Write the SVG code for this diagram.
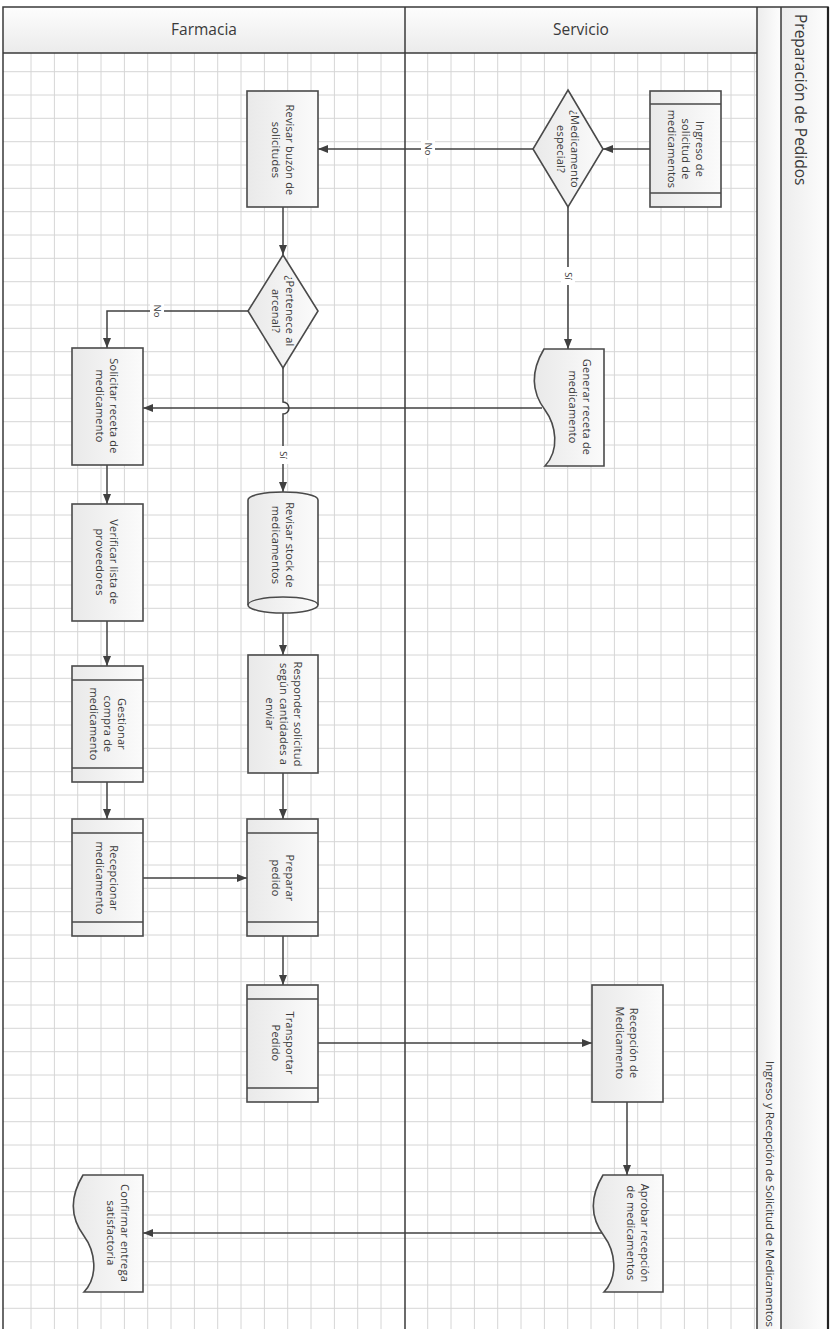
<svg xmlns="http://www.w3.org/2000/svg" width="834" height="1329" viewBox="0 0 834 1329">
<style>
.frame{fill:none;stroke:#3a3a3a;stroke-width:1.5}
.grid{fill:none;stroke:#d6d6d6;stroke-width:1}
.shape{fill:url(#nodeFill);stroke:#4a4a4a;stroke-width:1.6}
.band{fill:none;stroke:#4a4a4a;stroke-width:1.4}
.conn{fill:none;stroke:#404040;stroke-width:1.5}
.arr{marker-end:url(#ah)}
.ntext{font-family:"Open Sans","Noto Sans",sans-serif;font-size:11px;letter-spacing:0.2px;fill:#3a3a3a;text-anchor:middle}
.lbl{font-family:"Open Sans","Noto Sans",sans-serif;font-size:9.5px;fill:#3a3a3a;text-anchor:middle}
.lane{font-family:"Open Sans","Noto Sans",sans-serif;font-size:15.5px;fill:#3a3a3a;text-anchor:middle}
.title{font-family:"Open Sans","Noto Sans",sans-serif;font-size:15.5px;fill:#3a3a3a}
.sub{font-family:"Open Sans","Noto Sans",sans-serif;font-size:10.5px;fill:#3a3a3a}
</style>
<defs>
<linearGradient id="nodeFill" x1="0" y1="0" x2="1" y2="0">
<stop offset="0" stop-color="#e9e9e9"/>
<stop offset="1" stop-color="#fbfbfb"/>
</linearGradient>
<linearGradient id="hdrFill" x1="0" y1="0" x2="0" y2="1">
<stop offset="0" stop-color="#fdfdfd"/>
<stop offset="1" stop-color="#ebebeb"/>
</linearGradient>
<linearGradient id="colFill" x1="0" y1="0" x2="1" y2="0">
<stop offset="0" stop-color="#ececec"/>
<stop offset="1" stop-color="#fdfdfd"/>
</linearGradient>
<marker id="ah" markerWidth="10" markerHeight="8" refX="10" refY="4" orient="auto" markerUnits="userSpaceOnUse">
<path d="M0,0 L10,4 L0,8 Z" fill="#404040"/>
</marker>
</defs>

<g id="background">
<rect x="0" y="0" width="834" height="1329" fill="#ffffff"/>
<path class="grid" d="M31,53V1329M54.4,53V1329M77.7,53V1329M101,53V1329M124.4,53V1329M147.7,53V1329M171,53V1329M194.4,53V1329M217.7,53V1329M241,53V1329M264.4,53V1329M287.7,53V1329M311,53V1329M334.4,53V1329M357.7,53V1329M381,53V1329M427.7,53V1329M451,53V1329M474.4,53V1329M497.7,53V1329M521,53V1329M544.4,53V1329M567.7,53V1329M591,53V1329M614.4,53V1329M637.7,53V1329M661,53V1329M684.4,53V1329M707.7,53V1329M731,53V1329M754.4,53V1329
M3,71.7H757M3,95H757M3,118.3H757M3,141.7H757M3,165H757M3,188.3H757M3,211.7H757M3,235H757M3,258.3H757M3,281.7H757M3,305H757M3,328.3H757M3,351.7H757M3,375H757M3,398.3H757M3,421.7H757M3,445H757M3,468.3H757M3,491.7H757M3,515H757M3,538.3H757M3,561.7H757M3,585H757M3,608.3H757M3,631.7H757M3,655H757M3,678.3H757M3,701.7H757M3,725H757M3,748.3H757M3,771.7H757M3,795H757M3,818.3H757M3,841.7H757M3,865H757M3,888.3H757M3,911.7H757M3,935H757M3,958.3H757M3,981.7H757M3,1005H757M3,1028.3H757M3,1051.7H757M3,1075H757M3,1098.3H757M3,1121.7H757M3,1145H757M3,1168.3H757M3,1191.7H757M3,1215H757M3,1238.3H757M3,1261.7H757M3,1285H757M3,1308.3H757"/>
<rect x="3" y="7" width="754" height="46" fill="url(#hdrFill)"/>
<rect x="757" y="7" width="24" height="1322" fill="url(#colFill)"/>
<rect x="781" y="7" width="47" height="1322" fill="url(#colFill)"/>
</g>

<g id="pool">
<path class="frame" d="M3,1329 V7 H828 V1329"/>
<path class="frame" d="M3,53 H757"/>
<path class="frame" d="M405,7 V1329"/>
<path class="frame" d="M757,7 V1329"/>
<path class="frame" d="M781,7 V1329"/>
<path d="M828,7 V1329" stroke="#222" stroke-width="2.2" fill="none"/>
<text class="lane" x="204" y="35">Farmacia</text>
<text class="lane" x="581" y="35">Servicio</text>
<text class="title" transform="translate(794.5,14) rotate(90)">Preparación de Pedidos</text>
<text class="sub" transform="translate(765.5,1061) rotate(90)" textLength="266" lengthAdjust="spacingAndGlyphs">Ingreso y Recepción de Solicitud de Medicamentos</text>
</g>

<g id="connectors">
<path class="conn arr" d="M650,149 H603"/>
<path class="conn arr" d="M533,149 H318"/>
<path class="conn arr" d="M568,207 V349"/>
<path class="conn arr" d="M283,207 V255"/>
<path class="conn arr" d="M248,311 H107 V348"/>
<path class="conn arr" d="M283,368 V402 A6,6 0 0 1 283,414 V492"/>
<path class="conn arr" d="M542,408 H143"/>
<path class="conn arr" d="M107,465 V504"/>
<path class="conn arr" d="M283,613 V655"/>
<path class="conn arr" d="M107,621 V666"/>
<path class="conn arr" d="M283,773 V819"/>
<path class="conn arr" d="M107,782 V819"/>
<path class="conn arr" d="M143,878 H247"/>
<path class="conn arr" d="M283,936 V985"/>
<path class="conn arr" d="M318,1043 H592"/>
<path class="conn arr" d="M627,1102 V1175"/>
<path class="conn arr" d="M603,1233 H143"/>
<rect x="421" y="140" width="14" height="18" fill="#ffffff"/>
<text class="lbl" transform="translate(425,149) rotate(90)">No</text>
<rect x="561" y="267" width="14" height="18" fill="#ffffff"/>
<text class="lbl" transform="translate(564.5,276) rotate(90)">Sí</text>
<rect x="150" y="302" width="14" height="18" fill="#ffffff"/>
<text class="lbl" transform="translate(154,311) rotate(90)">No</text>
<rect x="276" y="446" width="14" height="18" fill="#ffffff"/>
<text class="lbl" transform="translate(279.5,455) rotate(90)">Sí</text>
</g>

<g id="n-ingreso">
<rect class="shape" x="650" y="91" width="71" height="116"/>
<path class="band" d="M650,104 H721 M650,193 H721"/>
<text class="ntext" transform="translate(685,149) rotate(90)"><tspan x="0" y="-10.5">Ingreso de</tspan><tspan x="0" y="3.5">solicitud de</tspan><tspan x="0" y="17.5">medicamentos</tspan></text>
</g>

<g id="n-medicamento-especial">
<path class="shape" d="M568,90 L603,149 L568,207 L533,149 Z"/>
<text class="ntext" transform="translate(568,149) rotate(90)"><tspan x="0" y="-3">¿Medicamento</tspan><tspan x="0" y="11">especial?</tspan></text>
</g>

<g id="n-revisar-buzon">
<rect class="shape" x="247" y="91" width="71" height="116"/>
<text class="ntext" transform="translate(283,150) rotate(90)"><tspan x="0" y="-3">Revisar buzón de</tspan><tspan x="0" y="11">solicitudes</tspan></text>
</g>

<g id="n-pertenece-arcenal">
<path class="shape" d="M283,255 L318,311 L283,368 L248,311 Z"/>
<text class="ntext" transform="translate(283,311) rotate(90)"><tspan x="0" y="-3">¿Pertenece al</tspan><tspan x="0" y="11">arcenal?</tspan></text>
</g>

<g id="n-generar-receta">
<path class="shape" d="M604,349 L544,349 C529,374 533,394 545,410 C556,425 560,450 545,466 L604,466 Z"/>
<text class="ntext" transform="translate(580,407) rotate(90)"><tspan x="0" y="-3">Generar receta de</tspan><tspan x="0" y="11">medicamento</tspan></text>
</g>

<g id="n-solicitar-receta">
<rect class="shape" x="72" y="348" width="71" height="117"/>
<text class="ntext" transform="translate(107,406) rotate(90)"><tspan x="0" y="-3">Solicitar receta de</tspan><tspan x="0" y="11">medicamento</tspan></text>
</g>

<g id="n-revisar-stock">
<path class="shape" d="M248,500 A35,8 0 0 1 318,500 L318,605 A35,8 0 0 1 248,605 Z"/>
<path class="band" d="M248,605 A35,8 0 0 1 318,605"/>
<text class="ntext" transform="translate(283,545) rotate(90)"><tspan x="0" y="-3">Revisar stock de</tspan><tspan x="0" y="11">medicamentos</tspan></text>
</g>

<g id="n-verificar-lista">
<rect class="shape" x="72" y="504" width="71" height="117"/>
<text class="ntext" transform="translate(107,562) rotate(90)"><tspan x="0" y="-3">Verificar lista de</tspan><tspan x="0" y="11">proveedores</tspan></text>
</g>

<g id="n-gestionar-compra">
<rect class="shape" x="72" y="666" width="71" height="116"/>
<path class="band" d="M72,680 H143 M72,768 H143"/>
<text class="ntext" transform="translate(107,724) rotate(90)"><tspan x="0" y="-10.5">Gestionar</tspan><tspan x="0" y="3.5">compra de</tspan><tspan x="0" y="17.5">medicamento</tspan></text>
</g>

<g id="n-responder-solicitud">
<rect class="shape" x="248" y="655" width="70" height="118"/>
<text class="ntext" transform="translate(283,714) rotate(90)"><tspan x="0" y="-10.5">Responder solicitud</tspan><tspan x="0" y="3.5">según cantidades a</tspan><tspan x="0" y="17.5">enviar</tspan></text>
</g>

<g id="n-recepcionar">
<rect class="shape" x="72" y="819" width="71" height="117"/>
<path class="band" d="M72,833 H143 M72,922 H143"/>
<text class="ntext" transform="translate(107,878) rotate(90)"><tspan x="0" y="-3">Recepcionar</tspan><tspan x="0" y="11">medicamento</tspan></text>
</g>

<g id="n-preparar-pedido">
<rect class="shape" x="247" y="819" width="71" height="117"/>
<path class="band" d="M247,833 H318 M247,922 H318"/>
<text class="ntext" transform="translate(283,878) rotate(90)"><tspan x="0" y="-3">Preparar</tspan><tspan x="0" y="11">pedido</tspan></text>
</g>

<g id="n-transportar-pedido">
<rect class="shape" x="247" y="985" width="71" height="117"/>
<path class="band" d="M247,999 H318 M247,1088 H318"/>
<text class="ntext" transform="translate(283,1043) rotate(90)"><tspan x="0" y="-3">Transportar</tspan><tspan x="0" y="11">Pedido</tspan></text>
</g>

<g id="n-recepcion-medicamento">
<rect class="shape" x="592" y="985" width="71" height="117"/>
<text class="ntext" transform="translate(627,1043) rotate(90)"><tspan x="0" y="-3">Recepción de</tspan><tspan x="0" y="11">Medicamento</tspan></text>
</g>

<g id="n-aprobar-recepcion">
<path class="shape" d="M663,1175 L603,1175 C588,1200 592,1220 604,1236 C615,1251 619,1276 604,1292 L663,1292 Z"/>
<text class="ntext" transform="translate(638,1233) rotate(90)"><tspan x="0" y="-3">Aprobar recepción</tspan><tspan x="0" y="11">de medicamentos</tspan></text>
</g>

<g id="n-confirmar-entrega">
<path class="shape" d="M143,1175 L83,1175 C68,1200 72,1220 84,1236 C95,1251 99,1276 84,1292 L143,1292 Z"/>
<text class="ntext" transform="translate(118,1233) rotate(90)"><tspan x="0" y="-3">Confirmar entrega</tspan><tspan x="0" y="11">satisfactoria</tspan></text>
</g>
</svg>
